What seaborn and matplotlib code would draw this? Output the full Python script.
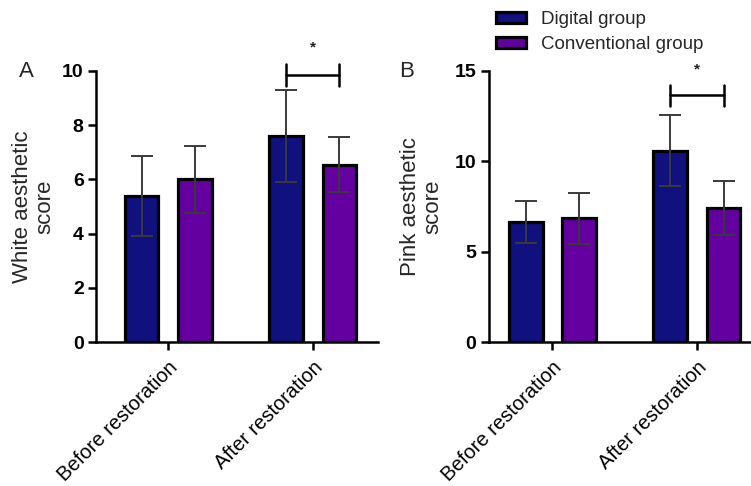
import matplotlib
matplotlib.use("Agg")
import matplotlib.pyplot as plt
import seaborn as sns
import pandas as pd

sns.set_theme(style="ticks")
plt.rcParams["font.family"] = ["Liberation Sans", "DejaVu Sans"]

# Data
timepoints = ["Before restoration", "After restoration"]
groups = ["Digital group", "Conventional group"]
colors = ["#10107F", "#6400A0"]

white_digital_mean = [5.4, 7.6]
white_digital_sd = [1.48, 1.7]
white_conv_mean = [6.0, 6.55]
white_conv_sd = [1.24, 1.03]

pink_digital_mean = [6.65, 10.6]
pink_digital_sd = [1.15, 1.95]
pink_conv_mean = [6.85, 7.4]
pink_conv_sd = [1.4, 1.5]

white_yticks = [0, 2, 4, 6, 8, 10]
pink_yticks = [0, 5, 10, 15]


def make_frame(dm, dsd, cm, csd):
    rows = []
    for i, t in enumerate(timepoints):
        rows.append({"time": t, "group": groups[0], "mean": dm[i], "sd": dsd[i]})
        rows.append({"time": t, "group": groups[1], "mean": cm[i], "sd": csd[i]})
    return pd.DataFrame(rows)


def draw_panel(ax, df, yticks, ylabel, label_x, xlim, bracket_y, bracket_half, star_y):
    sns.barplot(data=df, x="time", y="mean", hue="group", order=timepoints,
                hue_order=groups, palette=colors, width=0.74, gap=0.37,
                edgecolor="black", linewidth=2.3, errorbar=None,
                saturation=1, legend=False, ax=ax)
    # SD error bars at each bar center
    centers = {}
    for g, cont in zip(groups, ax.containers):
        sub = df[df["group"] == g].set_index("time").loc[timepoints]
        xs = [p.get_x() + p.get_width() / 2 for p in cont.patches]
        centers[g] = xs
        ax.errorbar(xs, sub["mean"], yerr=sub["sd"], fmt="none",
                    ecolor="#3a3a3a", elinewidth=1.4, capsize=8,
                    capthick=1.4, zorder=5)
    # significance bracket for the after-restoration pair
    x1, x2 = centers[groups[0]][1], centers[groups[1]][1]
    ax.plot([x1, x2], [bracket_y, bracket_y], color="black", lw=1.8,
            clip_on=False, zorder=6)
    for xx in (x1, x2):
        ax.plot([xx, xx], [bracket_y - bracket_half, bracket_y + bracket_half],
                color="black", lw=1.8, clip_on=False, zorder=6)
    ax.text((x1 + x2) / 2, star_y, "*", ha="center", va="center",
            fontsize=11, fontweight="bold", color="#222222", clip_on=False)

    ax.set_xlim(*xlim)
    ax.set_ylim(yticks[0], yticks[-1])
    ax.set_yticks(yticks)
    ax.set_yticklabels([str(v) for v in yticks], fontsize=14, fontweight="bold")
    ax.set_xticks(range(len(timepoints)))
    ax.set_xticklabels(timepoints, rotation=45, ha="right",
                       rotation_mode="anchor", fontsize=14.5)
    ax.set_xlabel("")
    ax.set_ylabel(ylabel, fontsize=16, linespacing=1.1)
    ax.yaxis.set_label_coords(label_x, 0.5)
    sns.despine(ax=ax)
    for s in ("left", "bottom"):
        ax.spines[s].set_linewidth(1.8)
        ax.spines[s].set_color("black")
    ax.tick_params(axis="both", width=1.8, length=6, color="black",
                   labelcolor="black", pad=3)
    ax.tick_params(axis="x", pad=5)


fig = plt.figure(figsize=(7.51, 4.86), dpi=100)
ax_a = fig.add_axes([0.128, 0.296, 0.375, 0.558])
ax_b = fig.add_axes([0.651, 0.296, 0.349, 0.558])

white_df = make_frame(white_digital_mean, white_digital_sd, white_conv_mean, white_conv_sd)
pink_df = make_frame(pink_digital_mean, pink_digital_sd, pink_conv_mean, pink_conv_sd)

draw_panel(ax_a, white_df, white_yticks, "White aesthetic\nscore", -0.145,
           (-0.5, 1.45), 9.85, 0.42, 10.85)
draw_panel(ax_b, pink_df, pink_yticks, "Pink aesthetic\nscore", -0.172,
           (-0.44, 1.375), 13.65, 0.6, 15.1)

fig.text(0.025, 0.852, "A", fontsize=16, va="center", ha="left")
fig.text(0.532, 0.852, "B", fontsize=16, va="center", ha="left")

# Legend
handles = [plt.Rectangle((0, 0), 1, 1, facecolor=c, edgecolor="black", linewidth=2.3)
           for c in colors]
fig.legend(handles, groups, loc="upper left", bbox_to_anchor=(0.650, 0.993),
           frameon=False, fontsize=13.5, handlelength=1.6, handleheight=0.5,
           handletextpad=0.8, labelspacing=0.45, borderaxespad=0)

fig.savefig("out.png", dpi=100)
